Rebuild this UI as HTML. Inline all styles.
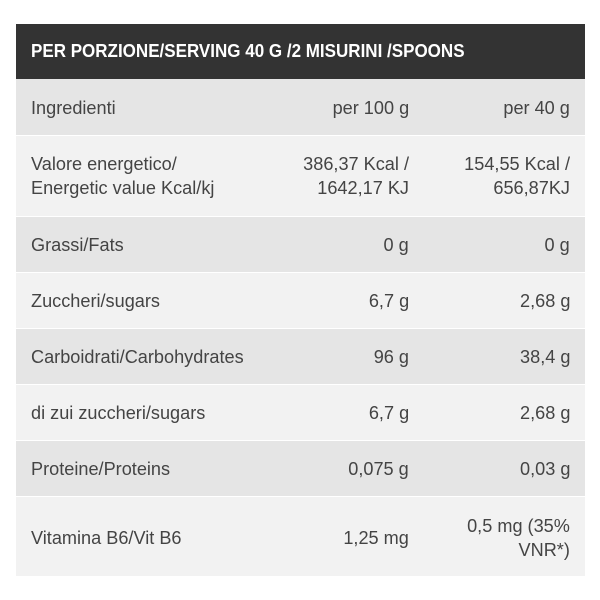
<!DOCTYPE html>
<html><head><style>
body{margin:0;width:600px;height:600px;background:#fff;position:relative;font-family:"Liberation Sans",sans-serif;overflow:hidden}
.r{position:absolute;left:16px;width:569px}
.t{position:absolute;font-size:18.5px;color:#444;line-height:24px;white-space:nowrap;transform:scaleX(0.98)}
.l{left:15px;transform-origin:left center}
.c2{right:176px;text-align:right;transform-origin:right center}
.c3{right:15px;text-align:right;transform-origin:right center}
.g{background:#e5e5e5}.w{background:#f2f2f2}
</style></head><body>
<div class="r" style="top:24px;height:55px;background:#333">
<div class="t l" style="top:15px;color:#fff;font-weight:bold;font-size:18px;transform:scaleX(0.945)">PER PORZIONE/SERVING 40 G /2 MISURINI /SPOONS</div></div>
<div class="r g" style="top:79px;height:56px"><div class="t l" style="top:17px">Ingredienti</div><div class="t c2" style="top:17px">per 100 g</div><div class="t c3" style="top:17px">per 40 g</div></div>
<div class="r w" style="top:136px;height:80px"><div class="t l" style="top:16px">Valore energetico/<br>Energetic value Kcal/kj</div><div class="t c2" style="top:16px">386,37 Kcal /<br>1642,17 KJ</div><div class="t c3" style="top:16px">154,55 Kcal /<br>656,87KJ</div></div>
<div class="r g" style="top:217px;height:55px"><div class="t l" style="top:16px">Grassi/Fats</div><div class="t c2" style="top:16px">0 g</div><div class="t c3" style="top:16px">0 g</div></div>
<div class="r w" style="top:273px;height:55px"><div class="t l" style="top:16px">Zuccheri/sugars</div><div class="t c2" style="top:16px">6,7 g</div><div class="t c3" style="top:16px">2,68 g</div></div>
<div class="r g" style="top:329px;height:55px"><div class="t l" style="top:16px">Carboidrati/Carbohydrates</div><div class="t c2" style="top:16px">96 g</div><div class="t c3" style="top:16px">38,4 g</div></div>
<div class="r w" style="top:385px;height:55px"><div class="t l" style="top:16px">di zui zuccheri/sugars</div><div class="t c2" style="top:16px">6,7 g</div><div class="t c3" style="top:16px">2,68 g</div></div>
<div class="r g" style="top:441px;height:55px"><div class="t l" style="top:16px">Proteine/Proteins</div><div class="t c2" style="top:16px">0,075 g</div><div class="t c3" style="top:16px">0,03 g</div></div>
<div class="r w" style="top:497px;height:79px"><div class="t l" style="top:29px">Vitamina B6/Vit B6</div><div class="t c2" style="top:29px">1,25 mg</div><div class="t c3" style="top:17px">0,5 mg (35%<br>VNR*)</div></div>
</body></html>
